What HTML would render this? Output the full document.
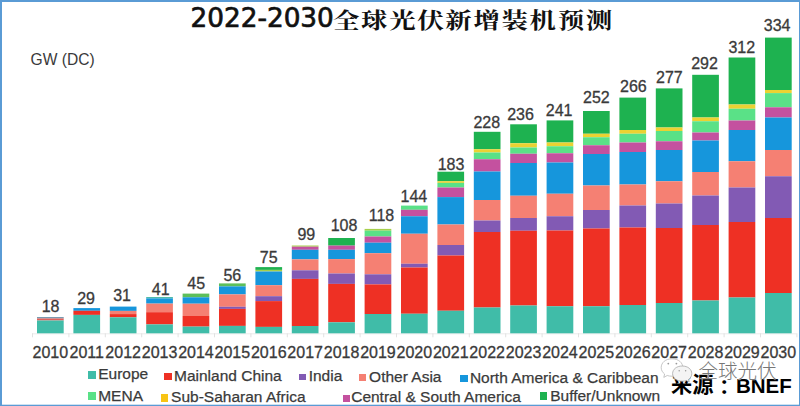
<!DOCTYPE html>
<html><head><meta charset="utf-8"><style>
html,body{margin:0;padding:0;}
body{width:800px;height:406px;position:relative;overflow:hidden;background:#fff;font-family:"Liberation Sans",Arial,sans-serif;}
.frame{position:absolute;left:0;top:0;width:800px;height:406px;box-sizing:border-box;border-style:solid;border-color:#5a9bd5;border-width:2px 1px 1px 2px;box-shadow:inset 0 -1px 0 rgba(90,155,213,0.3);}
.v{position:absolute;width:60px;text-align:center;font-size:16px;line-height:18px;color:#3a3a3a;-webkit-text-stroke:0.3px #3a3a3a;}
.y{position:absolute;top:343.5px;width:60px;text-align:center;font-size:16px;line-height:18px;color:#3a3a3a;-webkit-text-stroke:0.3px #3a3a3a;}
.sq{position:absolute;}
.lt{position:absolute;font-size:15.5px;line-height:17px;color:#3a3a3a;-webkit-text-stroke:0.25px #3a3a3a;white-space:nowrap;}
.t1{position:absolute;left:190.5px;top:3.3px;font-family:"DejaVu Sans",sans-serif;font-size:26.3px;-webkit-text-stroke:0.7px #111;line-height:30px;color:#111;white-space:nowrap;}
.t2{position:absolute;left:332.8px;top:6px;font-family:"Liberation Serif","Noto Serif CJK SC",serif;font-weight:700;font-size:22px;line-height:30px;letter-spacing:1.4px;transform:scaleX(1.2);transform-origin:0 0;color:#111;white-space:nowrap;}
.gw{position:absolute;left:30.6px;top:51px;font-size:15.6px;line-height:18px;color:#3a3a3a;}
.src{position:absolute;top:373.5px;font-family:"Liberation Sans","Noto Sans CJK SC",sans-serif;font-weight:bold;font-size:20.5px;line-height:24px;color:#000;white-space:nowrap;}
.wm{position:absolute;left:698.5px;top:359px;font-family:"Liberation Sans","Noto Sans CJK SC",sans-serif;font-weight:300;font-size:19.5px;line-height:24px;color:#777;white-space:nowrap;text-shadow:0 0 1px #fff,0 0 1px #fff;}
</style></head><body>
<div class="t1">2022-2030</div>
<div class="t2">全球光伏新增装机预测</div>
<div class="gw">GW (DC)</div>
<svg style="position:absolute;left:0;top:0" width="800" height="406" viewBox="0 0 800 406">
<rect x="32" y="333.3" width="764.5" height="1" fill="#ececec"/><rect x="32.00" y="333.3" width="1" height="4" fill="#e2e2e2"/><rect x="68.40" y="333.3" width="1" height="4" fill="#e2e2e2"/><rect x="104.80" y="333.3" width="1" height="4" fill="#e2e2e2"/><rect x="141.20" y="333.3" width="1" height="4" fill="#e2e2e2"/><rect x="177.60" y="333.3" width="1" height="4" fill="#e2e2e2"/><rect x="214.00" y="333.3" width="1" height="4" fill="#e2e2e2"/><rect x="250.40" y="333.3" width="1" height="4" fill="#e2e2e2"/><rect x="286.80" y="333.3" width="1" height="4" fill="#e2e2e2"/><rect x="323.20" y="333.3" width="1" height="4" fill="#e2e2e2"/><rect x="359.60" y="333.3" width="1" height="4" fill="#e2e2e2"/><rect x="396.00" y="333.3" width="1" height="4" fill="#e2e2e2"/><rect x="432.40" y="333.3" width="1" height="4" fill="#e2e2e2"/><rect x="468.80" y="333.3" width="1" height="4" fill="#e2e2e2"/><rect x="505.20" y="333.3" width="1" height="4" fill="#e2e2e2"/><rect x="541.60" y="333.3" width="1" height="4" fill="#e2e2e2"/><rect x="578.00" y="333.3" width="1" height="4" fill="#e2e2e2"/><rect x="614.40" y="333.3" width="1" height="4" fill="#e2e2e2"/><rect x="650.80" y="333.3" width="1" height="4" fill="#e2e2e2"/><rect x="687.20" y="333.3" width="1" height="4" fill="#e2e2e2"/><rect x="723.60" y="333.3" width="1" height="4" fill="#e2e2e2"/><rect x="760.00" y="333.3" width="1" height="4" fill="#e2e2e2"/><rect x="796.40" y="333.3" width="1" height="4" fill="#e2e2e2"/>
<rect x="37.00" y="317.00" width="26.7" height="1.50" fill="#7a9bb0"/><rect x="37.00" y="318.50" width="26.7" height="2.00" fill="#e0605a"/><rect x="37.00" y="320.50" width="26.7" height="12.80" fill="#40bca8"/><rect x="73.40" y="308.10" width="26.7" height="2.70" fill="#1696dc"/><rect x="73.40" y="310.80" width="26.7" height="4.10" fill="#ee3024"/><rect x="73.40" y="314.90" width="26.7" height="18.40" fill="#40bca8"/><rect x="109.80" y="306.60" width="26.7" height="4.30" fill="#1696dc"/><rect x="109.80" y="310.90" width="26.7" height="3.20" fill="#f58073"/><rect x="109.80" y="314.10" width="26.7" height="3.20" fill="#ee3024"/><rect x="109.80" y="317.30" width="26.7" height="16.00" fill="#40bca8"/><rect x="146.20" y="297.10" width="26.7" height="1.30" fill="#3cb4a0"/><rect x="146.20" y="298.40" width="26.7" height="5.20" fill="#1696dc"/><rect x="146.20" y="303.60" width="26.7" height="8.60" fill="#f58073"/><rect x="146.20" y="312.20" width="26.7" height="12.20" fill="#ee3024"/><rect x="146.20" y="324.40" width="26.7" height="8.90" fill="#40bca8"/><rect x="182.60" y="293.60" width="26.7" height="3.70" fill="#5dbf5a"/><rect x="182.60" y="297.30" width="26.7" height="6.40" fill="#1696dc"/><rect x="182.60" y="303.70" width="26.7" height="12.30" fill="#f58073"/><rect x="182.60" y="316.00" width="26.7" height="10.60" fill="#ee3024"/><rect x="182.60" y="326.60" width="26.7" height="6.70" fill="#40bca8"/><rect x="219.00" y="283.40" width="26.7" height="3.00" fill="#5dbf5a"/><rect x="219.00" y="286.40" width="26.7" height="8.00" fill="#1696dc"/><rect x="219.00" y="294.40" width="26.7" height="12.40" fill="#f58073"/><rect x="219.00" y="306.80" width="26.7" height="2.10" fill="#825ab4"/><rect x="219.00" y="308.90" width="26.7" height="17.00" fill="#ee3024"/><rect x="219.00" y="325.90" width="26.7" height="7.40" fill="#40bca8"/><rect x="255.40" y="267.10" width="26.7" height="2.80" fill="#1eb250"/><rect x="255.40" y="269.90" width="26.7" height="1.60" fill="#a6cf4a"/><rect x="255.40" y="271.50" width="26.7" height="13.70" fill="#1696dc"/><rect x="255.40" y="285.20" width="26.7" height="11.00" fill="#f58073"/><rect x="255.40" y="296.20" width="26.7" height="4.90" fill="#825ab4"/><rect x="255.40" y="301.10" width="26.7" height="25.80" fill="#ee3024"/><rect x="255.40" y="326.90" width="26.7" height="6.40" fill="#40bca8"/><rect x="291.80" y="245.50" width="26.7" height="1.20" fill="#a6cf4a"/><rect x="291.80" y="246.70" width="26.7" height="3.10" fill="#c4519f"/><rect x="291.80" y="249.80" width="26.7" height="9.60" fill="#1696dc"/><rect x="291.80" y="259.40" width="26.7" height="10.90" fill="#f58073"/><rect x="291.80" y="270.30" width="26.7" height="8.60" fill="#825ab4"/><rect x="291.80" y="278.90" width="26.7" height="47.10" fill="#ee3024"/><rect x="291.80" y="326.00" width="26.7" height="7.30" fill="#40bca8"/><rect x="328.20" y="238.00" width="26.7" height="7.60" fill="#1eb250"/><rect x="328.20" y="245.60" width="26.7" height="4.20" fill="#c4519f"/><rect x="328.20" y="249.80" width="26.7" height="9.30" fill="#1696dc"/><rect x="328.20" y="259.10" width="26.7" height="14.40" fill="#f58073"/><rect x="328.20" y="273.50" width="26.7" height="10.40" fill="#825ab4"/><rect x="328.20" y="283.90" width="26.7" height="38.40" fill="#ee3024"/><rect x="328.20" y="322.30" width="26.7" height="11.00" fill="#40bca8"/><rect x="364.60" y="228.90" width="26.7" height="1.80" fill="#a6cf4a"/><rect x="364.60" y="230.70" width="26.7" height="5.80" fill="#5ae187"/><rect x="364.60" y="236.50" width="26.7" height="6.20" fill="#c4519f"/><rect x="364.60" y="242.70" width="26.7" height="10.50" fill="#1696dc"/><rect x="364.60" y="253.20" width="26.7" height="21.10" fill="#f58073"/><rect x="364.60" y="274.30" width="26.7" height="10.10" fill="#825ab4"/><rect x="364.60" y="284.40" width="26.7" height="29.60" fill="#ee3024"/><rect x="364.60" y="314.00" width="26.7" height="19.30" fill="#40bca8"/><rect x="401.00" y="205.60" width="26.7" height="4.20" fill="#5ae187"/><rect x="401.00" y="209.80" width="26.7" height="6.45" fill="#c4519f"/><rect x="401.00" y="216.25" width="26.7" height="17.50" fill="#1696dc"/><rect x="401.00" y="233.75" width="26.7" height="30.00" fill="#f58073"/><rect x="401.00" y="263.75" width="26.7" height="3.75" fill="#825ab4"/><rect x="401.00" y="267.50" width="26.7" height="46.25" fill="#ee3024"/><rect x="401.00" y="313.75" width="26.7" height="19.55" fill="#40bca8"/><rect x="437.40" y="171.70" width="26.7" height="9.50" fill="#1eb250"/><rect x="437.40" y="181.20" width="26.7" height="1.70" fill="#ebd232"/><rect x="437.40" y="182.90" width="26.7" height="4.60" fill="#5ae187"/><rect x="437.40" y="187.50" width="26.7" height="9.60" fill="#c4519f"/><rect x="437.40" y="197.10" width="26.7" height="27.40" fill="#1696dc"/><rect x="437.40" y="224.50" width="26.7" height="20.50" fill="#f58073"/><rect x="437.40" y="245.00" width="26.7" height="10.50" fill="#825ab4"/><rect x="437.40" y="255.50" width="26.7" height="55.25" fill="#ee3024"/><rect x="437.40" y="310.75" width="26.7" height="22.55" fill="#40bca8"/><rect x="473.80" y="131.80" width="26.7" height="17.45" fill="#1eb250"/><rect x="473.80" y="149.25" width="26.7" height="3.25" fill="#ebd232"/><rect x="473.80" y="152.50" width="26.7" height="6.75" fill="#5ae187"/><rect x="473.80" y="159.25" width="26.7" height="12.25" fill="#c4519f"/><rect x="473.80" y="171.50" width="26.7" height="28.50" fill="#1696dc"/><rect x="473.80" y="200.00" width="26.7" height="20.50" fill="#f58073"/><rect x="473.80" y="220.50" width="26.7" height="11.50" fill="#825ab4"/><rect x="473.80" y="232.00" width="26.7" height="75.50" fill="#ee3024"/><rect x="473.80" y="307.50" width="26.7" height="25.80" fill="#40bca8"/><rect x="510.20" y="124.30" width="26.7" height="18.95" fill="#1eb250"/><rect x="510.20" y="143.25" width="26.7" height="4.25" fill="#ebd232"/><rect x="510.20" y="147.50" width="26.7" height="6.25" fill="#5ae187"/><rect x="510.20" y="153.75" width="26.7" height="9.25" fill="#c4519f"/><rect x="510.20" y="163.00" width="26.7" height="32.75" fill="#1696dc"/><rect x="510.20" y="195.75" width="26.7" height="22.25" fill="#f58073"/><rect x="510.20" y="218.00" width="26.7" height="12.75" fill="#825ab4"/><rect x="510.20" y="230.75" width="26.7" height="74.75" fill="#ee3024"/><rect x="510.20" y="305.50" width="26.7" height="27.80" fill="#40bca8"/><rect x="546.60" y="120.40" width="26.7" height="22.10" fill="#1eb250"/><rect x="546.60" y="142.50" width="26.7" height="3.75" fill="#ebd232"/><rect x="546.60" y="146.25" width="26.7" height="7.00" fill="#5ae187"/><rect x="546.60" y="153.25" width="26.7" height="9.25" fill="#c4519f"/><rect x="546.60" y="162.50" width="26.7" height="31.25" fill="#1696dc"/><rect x="546.60" y="193.75" width="26.7" height="22.50" fill="#f58073"/><rect x="546.60" y="216.25" width="26.7" height="14.25" fill="#825ab4"/><rect x="546.60" y="230.50" width="26.7" height="75.75" fill="#ee3024"/><rect x="546.60" y="306.25" width="26.7" height="27.05" fill="#40bca8"/><rect x="583.00" y="111.00" width="26.7" height="22.75" fill="#1eb250"/><rect x="583.00" y="133.75" width="26.7" height="3.50" fill="#ebd232"/><rect x="583.00" y="137.25" width="26.7" height="8.00" fill="#5ae187"/><rect x="583.00" y="145.25" width="26.7" height="8.75" fill="#c4519f"/><rect x="583.00" y="154.00" width="26.7" height="31.50" fill="#1696dc"/><rect x="583.00" y="185.50" width="26.7" height="24.50" fill="#f58073"/><rect x="583.00" y="210.00" width="26.7" height="18.50" fill="#825ab4"/><rect x="583.00" y="228.50" width="26.7" height="77.75" fill="#ee3024"/><rect x="583.00" y="306.25" width="26.7" height="27.05" fill="#40bca8"/><rect x="619.40" y="97.60" width="26.7" height="32.40" fill="#1eb250"/><rect x="619.40" y="130.00" width="26.7" height="3.75" fill="#ebd232"/><rect x="619.40" y="133.75" width="26.7" height="8.75" fill="#5ae187"/><rect x="619.40" y="142.50" width="26.7" height="9.50" fill="#c4519f"/><rect x="619.40" y="152.00" width="26.7" height="32.50" fill="#1696dc"/><rect x="619.40" y="184.50" width="26.7" height="21.00" fill="#f58073"/><rect x="619.40" y="205.50" width="26.7" height="22.00" fill="#825ab4"/><rect x="619.40" y="227.50" width="26.7" height="77.50" fill="#ee3024"/><rect x="619.40" y="305.00" width="26.7" height="28.30" fill="#40bca8"/><rect x="655.80" y="88.40" width="26.7" height="39.10" fill="#1eb250"/><rect x="655.80" y="127.50" width="26.7" height="3.50" fill="#ebd232"/><rect x="655.80" y="131.00" width="26.7" height="10.25" fill="#5ae187"/><rect x="655.80" y="141.25" width="26.7" height="8.75" fill="#c4519f"/><rect x="655.80" y="150.00" width="26.7" height="31.25" fill="#1696dc"/><rect x="655.80" y="181.25" width="26.7" height="22.25" fill="#f58073"/><rect x="655.80" y="203.50" width="26.7" height="24.50" fill="#825ab4"/><rect x="655.80" y="228.00" width="26.7" height="75.00" fill="#ee3024"/><rect x="655.80" y="303.00" width="26.7" height="30.30" fill="#40bca8"/><rect x="692.20" y="74.80" width="26.7" height="42.70" fill="#1eb250"/><rect x="692.20" y="117.50" width="26.7" height="3.75" fill="#ebd232"/><rect x="692.20" y="121.25" width="26.7" height="11.25" fill="#5ae187"/><rect x="692.20" y="132.50" width="26.7" height="8.00" fill="#c4519f"/><rect x="692.20" y="140.50" width="26.7" height="31.50" fill="#1696dc"/><rect x="692.20" y="172.00" width="26.7" height="23.50" fill="#f58073"/><rect x="692.20" y="195.50" width="26.7" height="29.50" fill="#825ab4"/><rect x="692.20" y="225.00" width="26.7" height="75.50" fill="#ee3024"/><rect x="692.20" y="300.50" width="26.7" height="32.80" fill="#40bca8"/><rect x="728.60" y="57.50" width="26.7" height="47.00" fill="#1eb250"/><rect x="728.60" y="104.50" width="26.7" height="4.25" fill="#ebd232"/><rect x="728.60" y="108.75" width="26.7" height="11.75" fill="#5ae187"/><rect x="728.60" y="120.50" width="26.7" height="9.50" fill="#c4519f"/><rect x="728.60" y="130.00" width="26.7" height="31.25" fill="#1696dc"/><rect x="728.60" y="161.25" width="26.7" height="26.25" fill="#f58073"/><rect x="728.60" y="187.50" width="26.7" height="34.50" fill="#825ab4"/><rect x="728.60" y="222.00" width="26.7" height="75.50" fill="#ee3024"/><rect x="728.60" y="297.50" width="26.7" height="35.80" fill="#40bca8"/><rect x="765.00" y="37.60" width="26.7" height="52.40" fill="#1eb250"/><rect x="765.00" y="90.00" width="26.7" height="3.10" fill="#ebd232"/><rect x="765.00" y="93.10" width="26.7" height="14.20" fill="#5ae187"/><rect x="765.00" y="107.30" width="26.7" height="10.20" fill="#c4519f"/><rect x="765.00" y="117.50" width="26.7" height="32.50" fill="#1696dc"/><rect x="765.00" y="150.00" width="26.7" height="26.25" fill="#f58073"/><rect x="765.00" y="176.25" width="26.7" height="41.75" fill="#825ab4"/><rect x="765.00" y="218.00" width="26.7" height="75.00" fill="#ee3024"/><rect x="765.00" y="293.00" width="26.7" height="40.30" fill="#40bca8"/>
</svg>
<div class="v" style="left:20.55px;top:297.50px">18</div><div class="v" style="left:56.05px;top:290.40px">29</div><div class="v" style="left:92.05px;top:286.60px">31</div><div class="v" style="left:130.75px;top:280.50px">41</div><div class="v" style="left:166.15px;top:275.00px">45</div><div class="v" style="left:202.35px;top:267.20px">56</div><div class="v" style="left:238.75px;top:248.80px">75</div><div class="v" style="left:276.35px;top:226.00px">99</div><div class="v" style="left:314.05px;top:217.25px">108</div><div class="v" style="left:351.45px;top:207.25px">118</div><div class="v" style="left:383.85px;top:187.60px">144</div><div class="v" style="left:421.05px;top:155.80px">183</div><div class="v" style="left:456.75px;top:113.80px">228</div><div class="v" style="left:490.55px;top:106.30px">236</div><div class="v" style="left:529.15px;top:102.00px">241</div><div class="v" style="left:566.35px;top:88.80px">252</div><div class="v" style="left:603.35px;top:77.60px">266</div><div class="v" style="left:639.35px;top:68.75px">277</div><div class="v" style="left:674.55px;top:55.00px">292</div><div class="v" style="left:711.75px;top:38.90px">312</div><div class="v" style="left:747.15px;top:16.70px">334</div>
<div class="y" style="left:20.35px">2010</div><div class="y" style="left:56.75px">2011</div><div class="y" style="left:93.15px">2012</div><div class="y" style="left:129.55px">2013</div><div class="y" style="left:165.95px">2014</div><div class="y" style="left:202.35px">2015</div><div class="y" style="left:238.75px">2016</div><div class="y" style="left:275.15px">2017</div><div class="y" style="left:311.55px">2018</div><div class="y" style="left:347.95px">2019</div><div class="y" style="left:384.35px">2020</div><div class="y" style="left:420.75px">2021</div><div class="y" style="left:457.15px">2022</div><div class="y" style="left:493.55px">2023</div><div class="y" style="left:529.95px">2024</div><div class="y" style="left:566.35px">2025</div><div class="y" style="left:602.75px">2026</div><div class="y" style="left:639.15px">2027</div><div class="y" style="left:675.55px">2028</div><div class="y" style="left:711.95px">2029</div><div class="y" style="left:748.35px">2030</div>
<div class="sq" style="left:87.5px;top:371px;width:8px;height:7.5px;background:#40bca8"></div><div class="lt" style="left:98.20px;top:365.10px">Europe</div><div class="sq" style="left:164.2px;top:372.8px;width:7.5px;height:7.3px;background:#ee3024"></div><div class="lt" style="left:174.00px;top:366.80px">Mainland China</div><div class="sq" style="left:299px;top:373.5px;width:7.2px;height:6.8px;background:#825ab4"></div><div class="lt" style="left:308.70px;top:367.00px">India</div><div class="sq" style="left:358.8px;top:374.2px;width:7.4px;height:7.3px;background:#f58073"></div><div class="lt" style="left:369.10px;top:368.20px">Other Asia</div><div class="sq" style="left:460px;top:375.3px;width:7.5px;height:6.9px;background:#1696dc"></div><div class="lt" style="left:469.90px;top:369.10px">North America &amp; Caribbean</div><div class="sq" style="left:87.5px;top:392.2px;width:8px;height:8px;background:#5ae187"></div><div class="lt" style="left:98.20px;top:386.70px">MENA</div><div class="sq" style="left:160.5px;top:393.5px;width:7.8px;height:8px;background:#f8c414"></div><div class="lt" style="left:171.10px;top:388.10px">Sub-Saharan Africa</div><div class="sq" style="left:343px;top:394.5px;width:7px;height:7px;background:#c4519f"></div><div class="lt" style="left:351.20px;top:388.20px">Central &amp; South America</div><div class="sq" style="left:539.8px;top:392.4px;width:7.5px;height:7.4px;background:#1eb250"></div><div class="lt" style="left:550.20px;top:386.60px">Buffer/Unknown</div>
<div class="src" style="left:671px;font-size:21.2px;top:373px">来源</div><div class="src" style="left:714px;top:375.5px;font-family:'Liberation Sans','Noto Sans CJK TC',sans-serif">：</div><div class="src" style="left:736px">BNEF</div>
<svg style="position:absolute;left:0;top:0" width="800" height="406" viewBox="0 0 800 406">
<path d="M672 358.8 C678.5 358.8 682.8 362.6 682.8 367.6 C682.8 372.6 678.2 376.2 672 376.2 C670.2 376.2 668.6 376 667.2 375.5 L663.8 377.4 L664.6 374 C662.5 372.4 661.2 370.2 661.2 367.6 C661.2 362.6 665.5 358.8 672 358.8 Z" fill="#fff" stroke="#b8b8b8" stroke-width="0.8"/>
<path d="M682.2 366 C687.8 366 691.8 369.3 691.8 373.6 C691.8 376 690.6 378 688.6 379.4 L689.2 382 L686.4 380.6 C685.1 381 683.7 381.2 682.2 381.2 C676.6 381.2 672.6 377.9 672.6 373.6 C672.6 369.3 676.6 366 682.2 366 Z" fill="#f4f4f4" stroke="#a8a8a8" stroke-width="0.8"/>
<g fill="#999"><circle cx="668.3" cy="363.6" r="0.9"/><circle cx="676.4" cy="363.6" r="0.9"/><circle cx="679.2" cy="370.8" r="0.75"/><circle cx="685.6" cy="370.8" r="0.75"/></g>
</svg>
<div class="wm">全球光伏</div>
<div class="frame"></div>
</body></html>
